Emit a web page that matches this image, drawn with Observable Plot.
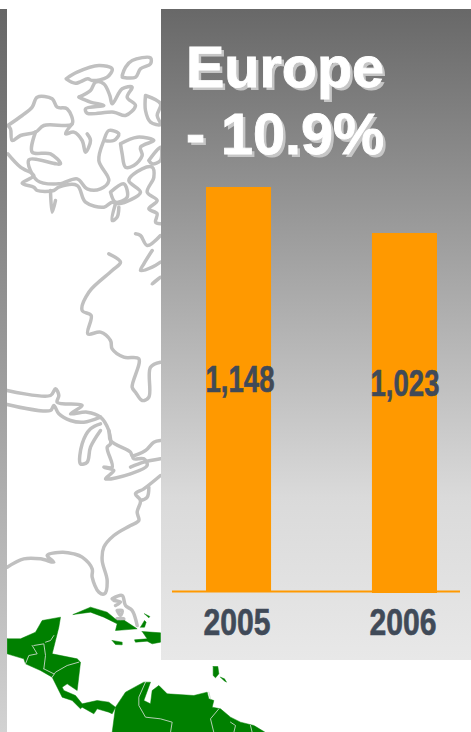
<!DOCTYPE html>
<html>
<head>
<meta charset="utf-8">
<script src="https://cdn.jsdelivr.net/npm/d3@7"></script>
<script src="https://cdn.jsdelivr.net/npm/@observablehq/plot@0.6"></script>
<style>
html,body{margin:0;padding:0;background:#fff;}
#stage{position:relative;width:471px;height:732px;overflow:hidden;background:#fff;}
#stage>*{position:absolute;left:0;top:0;}
#strip{left:0;top:9px;width:7px;height:723px;background:linear-gradient(#666,#d2d2d2);z-index:2;}
#panel{left:161px;top:9px;width:310px;height:651px;background:linear-gradient(#686868 0%,#a0a0a0 37%,#dadada 75%,#e8e8e8 100%);z-index:2;}
#title{left:186px;top:34px;z-index:4;font:bold 57.5px/67px "Liberation Sans",Arial,sans-serif;color:#fff;white-space:pre;-webkit-text-stroke:0.9px #fff;text-shadow:3px 3px 0 #c6c6c6;}
#map{z-index:1;}
#chart{z-index:3;}
svg{display:block;}
</style>
</head>
<body>
<div id="stage">
  <div id="map"></div>
  <div id="strip"></div>
  <div id="panel"></div>
  <div id="chart"></div>
  <div id="title"></div>
</div>
<script>
// Chart data
const years = ["2005", "2006"];
const values = [1148, 1023];
const valueLabels = ["1,148", "1,023"];
const titleLines = ["Europe", "- 10.9%"];

// Map outlines (map units)
const outlines = [
  [[197,235],[230,215],[295,195],[335,205],[320,230],[275,240],[262,235],[225,248],[197,235]],
  [[365,225],[375,200],[395,180],[450,172],[450,190],[420,205],[405,230],[365,230]],
  [[235,290],[270,270],[285,245],[310,250],[328,285],[335,310],[365,265],[395,260],[380,290],[405,315],[375,345],[340,335],[260,338],[255,325],[310,315],[270,305],[235,290]],
  [[435,285],[480,310],[470,345],[480,372],[450,365],[435,330],[435,285]],
  [[22,375],[65,345],[95,320],[110,290],[155,295],[170,320],[200,325],[215,370],[130,375],[105,395],[60,405],[35,420],[30,385],[22,375]],
  [[105,395],[95,455],[150,460],[180,490],[85,478],[110,540],[175,550],[230,535],[260,565],[300,565],[325,540],[295,480],[310,420],[325,390],[355,400],[340,420],[310,420]],
  [[215,370],[195,400],[220,395],[245,420],[255,455],[270,420],[260,400]],
  [[22,460],[60,500],[100,525],[65,548],[100,560],[110,570],[160,570],[175,560],[230,555],[255,605],[310,620],[335,605],[355,610],[420,575],[385,540],[425,505],[455,500],[460,530],[440,575],[470,600],[445,625],[470,640],[465,665],[480,670]],
  [[330,575],[370,550],[380,590],[345,605],[330,575]],
  [[345,610],[335,660],[350,650],[355,620]],
  [[150,570],[155,635],[165,600]],
  [[360,430],[410,410],[460,420],[420,440],[425,465],[400,495],[375,500],[365,460],[360,430]],
  [[445,480],[480,440],[480,480],[455,490],[445,480]],
  [[405,700],[420,705],[440,735],[480,705]],
  [[325,760],[360,785],[335,810],[265,875],[245,930],[272,945],[262,1000],[300,995],[330,1020],[335,1045],[370,1070],[415,1075],[395,1160],[405,1175],[425,1200],[445,1190],[450,1100],[480,1085]],
  [[455,750],[430,790],[420,810],[455,800],[480,785]],
  [[462,845],[480,830],[455,850],[462,845]],
  [[20,1170],[150,1185],[165,1165],[175,1185],[170,1205],[245,1215],[210,1240],[260,1235],[300,1250],[325,1290],[330,1320],[390,1355],[395,1365],[435,1350],[460,1325],[480,1320]],
  [[20,1212],[150,1230],[160,1215],[175,1240],[210,1260],[250,1265],[300,1250]],
  [[300,1270],[270,1285],[245,1330],[240,1390],[260,1385],[270,1340],[300,1290]],
  [[325,1290],[330,1330],[320,1340],[335,1400],[310,1400],[340,1410],[315,1435],[390,1420],[440,1395],[430,1375],[400,1375],[395,1365]],
  [[390,1400],[430,1385],[480,1375]],
  [[480,1425],[430,1465],[405,1480],[420,1500],[410,1535],[415,1560],[390,1575],[340,1605],[310,1640],[305,1680],[320,1740],[312,1780],[295,1775],[275,1730],[275,1705],[245,1670],[220,1660],[185,1655],[140,1665],[160,1685],[120,1675],[70,1675],[20,1700]],
  [[420,1500],[440,1490],[445,1460]],
  [[335,1795],[365,1785],[375,1815],[395,1830],[410,1875]],
  [[340,1800],[360,1805],[345,1815]],
  [[350,1830],[365,1830],[360,1845],[350,1830]],
  [[350,1855],[370,1855],[360,1868],[350,1855]]
];
const landFills = [
  [[218,1842],[270,1820],[320,1835],[350,1860],[372,1860],[410,1885],[345,1890],[350,1870],[310,1850],[270,1835],[218,1842]],
  [[425,1893],[480,1897],[480,1925],[455,1930],[440,1922],[405,1925],[402,1918],[440,1915],[425,1893]],
  [[335,1920],[365,1925],[365,1933],[345,1932],[335,1920]],
  [[420,1880],[432,1860],[437,1865],[432,1880],[420,1880]],
  [[432,1840],[448,1848],[445,1852],[432,1840]],
  [[20,1915],[60,1915],[105,1895],[125,1860],[180,1850],[175,1880],[165,1920],[155,1960],[230,1975],[240,1985],[230,2070],[200,2050],[185,2060],[190,2070],[225,2085],[245,2110],[290,2100],[325,2105],[345,2120],[335,2140],[325,2135],[290,2125],[280,2140],[245,2120],[240,2125],[215,2100],[185,2090],[155,2030],[120,2010],[75,1990],[70,1975],[20,1960],[20,1915]],
  [[335,2196],[345,2120],[375,2075],[430,2045],[450,2045],[430,2100],[450,2110],[455,2070],[475,2055],[500,2080],[580,2085],[620,2075],[625,2095],[640,2100],[635,2120],[660,2125],[690,2150],[720,2165],[760,2175],[795,2196],[335,2196]],
  [[638,1998],[652,1998],[655,2020],[645,2032],[638,2025],[638,1998]],
  [[660,2030],[672,2035],[678,2045],[670,2040],[660,2030]]
];
const borders = [
  [[100,1935],[130,1930],[135,1965],[130,2005]],
  [[75,1990],[85,1965],[110,1960],[95,1935]],
  [[155,2030],[165,2015],[200,1995],[235,1985]],
  [[130,2005],[160,2020]],
  [[135,1925],[150,1920],[160,1905]],
  [[435,2045],[415,2090],[415,2115],[435,2150],[480,2155],[515,2165],[510,2196]],
  [[655,2125],[630,2155],[640,2196]],
  [[625,2075],[630,2095]],
  [[690,2165],[705,2175],[700,2196]],
  [[750,2175],[755,2196]]
];

const toRows = (list) => list.flatMap((pts, i) => pts.map(([x, y]) => ({i, x, y})));

const mapPlot = Plot.plot({
  width: 471, height: 732,
  margin: 0,
  x: {type: "linear", domain: [0, 1413], range: [0, 471], axis: null},
  y: {type: "linear", domain: [0, 2196], range: [0, 732], axis: null},
  style: {background: "transparent"},
  marks: [
    Plot.line(toRows(outlines), {x: "x", y: "y", z: "i", curve: "catmull-rom", stroke: "#c0c0c0", strokeWidth: 3.5, strokeLinejoin: "round", strokeLinecap: "round"}),
    Plot.line(toRows(landFills), {x: "x", y: "y", z: "i", fill: "#008000", stroke: "#008000", strokeWidth: 0.5}),
    Plot.line(toRows(borders), {x: "x", y: "y", z: "i", stroke: "#c8d8c8", strokeWidth: 0.9})
  ]
});
document.getElementById("map").appendChild(mapPlot);

const rows = years.map((year, i) => ({year, value: values[i], label: valueLabels[i]}));
const ink = "#404a58";
const font = '"Liberation Sans",Arial,sans-serif';

const chart = Plot.plot({
  width: 471, height: 732,
  marginTop: 187, marginBottom: 141, marginLeft: 206, marginRight: 34,
  style: {background: "transparent", fontFamily: font},
  x: {type: "band", domain: years, paddingInner: 0.608, paddingOuter: 0, round: false, axis: null},
  y: {domain: [0, 1148], axis: null},
  marks: [
    Plot.ruleY([0], {stroke: "#ff9900", strokeWidth: 2, insetLeft: -34, insetRight: -23}),
    Plot.barY(rows.slice(0, 1), {x: "year", y: "value", fill: "#ff9900"}),
    Plot.barY(rows.slice(1), {x: "year", y: "value", fill: "#ff9900", dy: 2}),
    Plot.text(rows.slice(0, 1), {x: "year", frameAnchor: "middle", dx: 1, dy: -9, text: "label", fontSize: 36, fontWeight: "bold", fill: ink}),
    Plot.text(rows.slice(1), {x: "year", frameAnchor: "middle", dy: -5, text: "label", fontSize: 36, fontWeight: "bold", fill: ink}),
    Plot.axisX({anchor: "bottom", tickSize: 0, tickPadding: 18, dx: -2, fontSize: 36, fontWeight: "bold", color: ink, label: null})
  ]
});
document.getElementById("chart").appendChild(chart);

// The reference face is a narrow bold; squeeze the installed bold to the same widths
d3.select(chart).selectAll("text").each(function () {
  const t = this.textContent;
  const len = t.includes(",") ? 69 : 67;
  this.setAttribute("textLength", len);
  this.setAttribute("lengthAdjust", "spacingAndGlyphs");
  this.setAttribute("stroke", ink);
  this.setAttribute("stroke-width", "0.6");
});
document.getElementById("title").textContent = titleLines.join("\n");
</script>
</body>
</html>
